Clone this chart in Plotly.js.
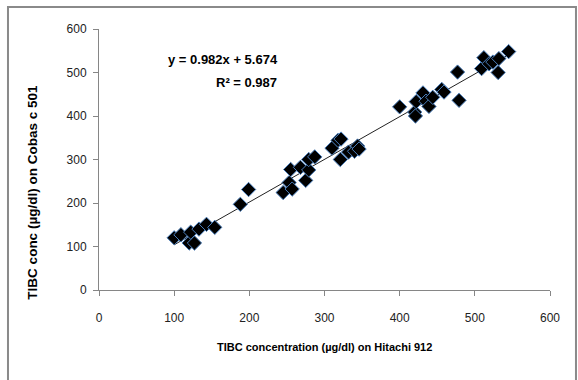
<!DOCTYPE html>
<html>
<head>
<meta charset="utf-8">
<script src="https://cdn.plot.ly/plotly-3.0.1.min.js"></script>
<style>html,body{margin:0;padding:0;background:#fff;}#chart{width:578px;height:380px;}</style>
</head>
<body>
<div id="chart"></div>
<script>
// Data
const hitachi = [100,109,120,127,122,133,143,154,188,199,245,253,257,255,268,275,279,279,287,310,318,321,322,332,340,344,346,400,420,421,422,431,435,439,444,456,459,477,479,509,512,519,524,531,532,545];
const cobas   = [120,127,108,108,133,140,151,144,197,231,224,247,232,277,282,252,276,300,306,326,344,300,347,317,319,331,324,421,409,400,433,453,434,422,443,461,455,501,436,509,534,520,524,500,532,548];
const fitSlope = 0.982;
const fitIntercept = 5.674;
const rSquared = 0.987;
const tickVals = [0,100,200,300,400,500,600];
const xTitle = "TIBC concentration (\u00b5g/dl) on Hitachi 912";
const yTitle = "TIBC conc (\u00b5g/dl) on Cobas c 501";

const xmin = Math.min(...hitachi), xmax = Math.max(...hitachi);
const trendX = [xmin, xmax];
const trendY = trendX.map(v => fitSlope * v + fitIntercept);

const font = "Liberation Sans, Arial, sans-serif";
const axisColor = "#868686";

const traces = [
  {x: trendX, y: trendY, mode: "lines", type: "scatter",
   line: {color: "#222", width: 1}, hoverinfo: "skip"},
  {x: hitachi, y: cobas, mode: "markers", type: "scatter",
   marker: {symbol: "diamond", size: 11, color: "#000", line: {color: "#4a7ebb", width: 1}}}
];

const axisCommon = {
  range: [0, 600], tickvals: tickVals, ticktext: tickVals.map(String),
  showgrid: false, zeroline: false, showline: true, linecolor: axisColor, linewidth: 1,
  ticks: "outside", ticklen: 5, tickcolor: axisColor, tickwidth: 1,
  tickfont: {family: font, size: 12, color: "#222"}, fixedrange: true
};

const layout = {
  width: 578, height: 380,
  margin: {l: 99, r: 28, t: 29, b: 90},
  paper_bgcolor: "#fff", plot_bgcolor: "#fff",
  showlegend: false,
  font: {family: font},
  xaxis: Object.assign({}, axisCommon, {ticklabelstandoff: 12}),
  yaxis: Object.assign({}, axisCommon, {ticklabelstandoff: 4}),
  shapes: [{type: "rect", xref: "paper", yref: "paper",
    x0: -0.2018, x1: 1.0576, y0: -0.36, y1: 1.084,
    line: {color: "#8a8a8a", width: 2}, fillcolor: "rgba(0,0,0,0)", layer: "below"}],
  annotations: [
    {text: "<b>" + xTitle + "</b>", xref: "paper", yref: "paper", x: 0.5, y: 0,
     yshift: -65, showarrow: false, font: {family: font, size: 11, color: "#000"}},
    {text: "<b>" + yTitle + "</b>", xref: "paper", yref: "paper", x: 0, y: 0.375,
     xshift: -76, textangle: -90, showarrow: false, font: {family: font, size: 13.5, color: "#000"}},
    {text: "<b>y = " + fitSlope + "x + " + fitIntercept + "</b>", xref: "x", yref: "y",
     x: 165, y: 529, showarrow: false, font: {family: font, size: 13, color: "#000"}},
    {text: "<b>R\u00b2 = " + rSquared + "</b>", xref: "x", yref: "y",
     x: 196, y: 478, showarrow: false, font: {family: font, size: 13, color: "#000"}}
  ]
};

Plotly.newPlot("chart", traces, layout, {displayModeBar: false, staticPlot: true});
</script>
</body>
</html>
